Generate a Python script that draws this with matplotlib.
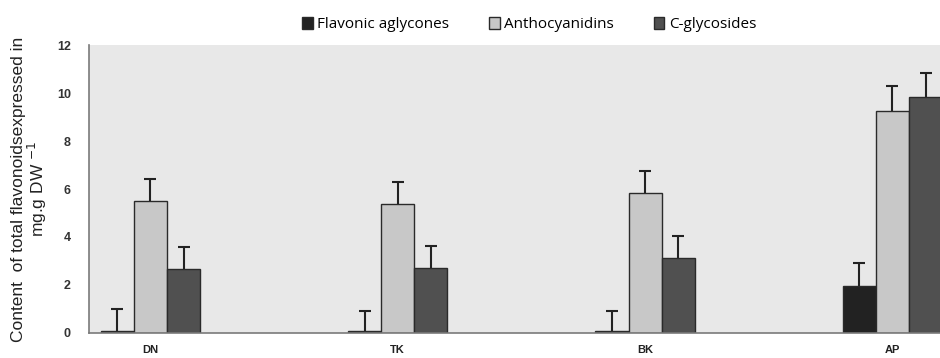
import numpy as np
import matplotlib.pyplot as plt

# Values
categories = ['DN', 'TK', 'BK', 'AP']
series_names = ['Flavonic aglycones', 'Anthocyanidins', 'C-glycosides']
flavonic = [0.08, 0.08, 0.08, 1.96]
anthocyanidins = [5.5, 5.36, 5.82, 9.26]
c_glycosides = [2.67, 2.72, 3.12, 9.82]
flavonic_err = [0.92, 0.85, 0.85, 0.94]
anthocyanidins_err = [0.9, 0.92, 0.94, 1.04]
c_glycosides_err = [0.91, 0.92, 0.92, 1.0]
yticks = [0, 2, 4, 6, 8, 10, 12]

colors = ['#222222', '#c8c8c8', '#505050']


def plot_flavonoids():
    fig = plt.figure(figsize=(9.4, 3.58), dpi=100)
    ax = fig.add_axes([0.0947, 0.070, 0.91, 0.804])
    ax.set_facecolor('#e8e8e8')

    x = np.arange(len(categories))
    width = 0.134
    data = [flavonic, anthocyanidins, c_glycosides]
    errs = [flavonic_err, anthocyanidins_err, c_glycosides_err]
    for i, (vals, err) in enumerate(zip(data, errs)):
        pos = x + (i - 1) * width
        ax.bar(pos, vals, width, color=colors[i], edgecolor='#2a2a2a',
               linewidth=1.0, label=series_names[i], zorder=2)
        eb = ax.errorbar(pos, vals, yerr=[np.zeros(len(err)), err], fmt='none',
                         ecolor='#222222', elinewidth=1.5, capsize=4,
                         capthick=1.5, zorder=3)
        # only the upper cap, as in the original
        eb[1][0].set_visible(False)

    ax.set_xlim(-0.248, 3.21)
    ax.set_ylim(0, 12)
    ax.set_yticks(yticks)
    ax.set_yticklabels([str(t) for t in yticks], fontsize=9, fontweight='bold',
                       color='#333333', family='Liberation Sans')
    ax.set_xticks(x)
    ax.set_xticklabels(categories, fontsize=8, fontweight='bold',
                       color='#222222', family='Liberation Sans')
    ax.tick_params(axis='x', length=0, pad=9)
    ax.tick_params(axis='y', length=0, pad=13)

    for side in ['top', 'right']:
        ax.spines[side].set_visible(False)
    for side in ['left', 'bottom']:
        ax.spines[side].set_color('#7a7a7a')
        ax.spines[side].set_linewidth(1.2)

    ax.set_ylabel('Content  of total flavonoidsexpressed in\nmg.g DW $^{-1}$',
                  fontsize=12.5, family='Liberation Sans', color='#222222',
                  labelpad=6, linespacing=0.95)

    fig.legend(loc='upper center', bbox_to_anchor=(0.563, 0.99), ncol=3,
               frameon=False, handlelength=0.7, handleheight=0.8,
               handletextpad=0.3, columnspacing=2.6,
               prop={'family': 'Open Sans', 'size': 11})

    fig.savefig('out.png', dpi=100)


if __name__ == "__main__":
    plot_flavonoids()
